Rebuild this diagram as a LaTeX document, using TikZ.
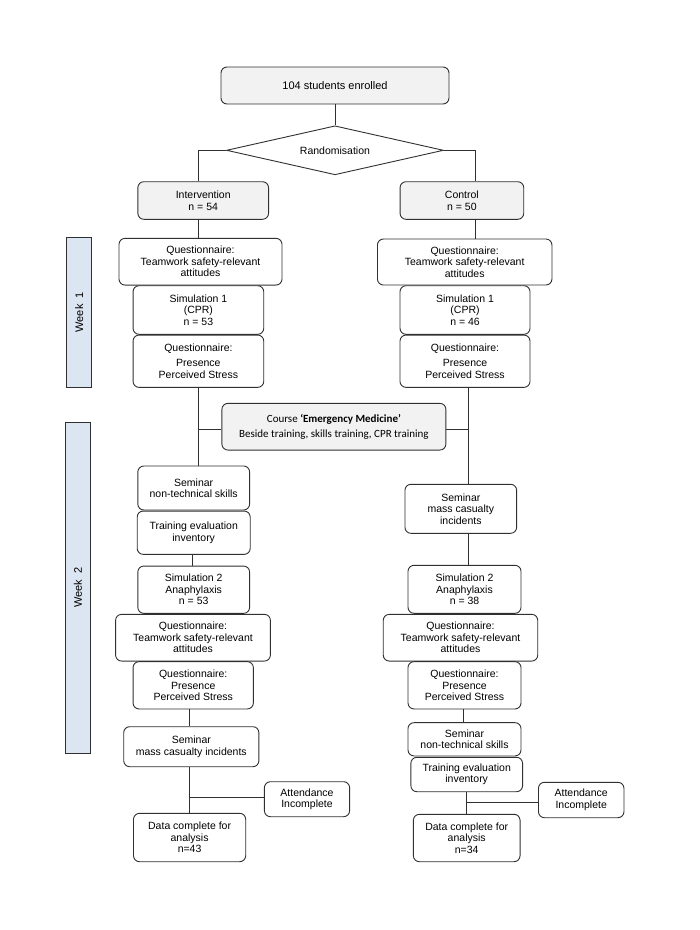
\documentclass[tikz,border=0pt]{standalone}
\usepackage{fontspec}
\setmainfont{Liberation Sans}
\newfontfamily\calib{Carlito}
\usetikzlibrary{shapes.geometric}
\definecolor{boxgrey}{HTML}{F2F2F2}
\definecolor{weekblue}{HTML}{DCE6F2}
\definecolor{linec}{HTML}{303030}
\begin{document}
\begin{tikzpicture}[x=1pt,y=-1pt,
  every node/.style={font=\fontsize{10.5}{11.5}\selectfont, align=center, inner sep=0pt, text=black},
  sz/.style 2 args={minimum width=#1pt, minimum height=#2pt},
  box/.style={draw=linec, line width=0.9pt, rounded corners=6pt, fill=white},
  gbox/.style={box, fill=boxgrey},
  weekbox/.style={draw=linec, line width=1pt, fill=weekblue, rotate=90, font=\fontsize{11}{12}\selectfont},
  conn/.style={draw=linec, line width=0.9pt}]
\useasboundingbox (0,0) rectangle (700,930);

% top
\node[gbox, sz={228}{37}, font=\fontsize{11}{12}\selectfont] (top) at (335,85.5) {104 students enrolled};
\node[diamond, draw=linec, line width=0.9pt, fill=white, aspect=4.4, sz={217}{49}] (rand) at (335,150.3) {Randomisation};
\node[gbox, sz={130.7}{37.6}] (int) at (203.2,200.5) {Intervention\\n = 54};
\node[gbox, sz={123.7}{37.6}] (ctl) at (461.9,200.5) {Control\\n = 50};

% week labels
\node[weekbox, sz={150}{24.8}] (wk1) at (79.1,312.3) {Week\ \ 1};
\node[weekbox, sz={331}{24.8}] (wk2) at (78,587.8) {Week\ \ 2};

% week 1 left
\node[box, sz={163}{46.7}] (lq1) at (200.5,261.7) {Questionnaire:\\Teamwork safety-relevant\\attitudes};
\node[box, sz={130.7}{48.6}] (ls1) at (198.4,310) {Simulation 1\\(CPR)\\n = 53};
\node[box, sz={130.7}{52.3}] (lq2) at (198.4,361.2) {Questionnaire:\\[4pt]Presence\\Perceived Stress};
% week 1 right
\node[box, sz={174.5}{46}] (rq1) at (464.7,262) {Questionnaire:\\Teamwork safety-relevant\\attitudes};
\node[box, sz={130}{48.6}] (rs1) at (465,310) {Simulation 1\\(CPR)\\n = 46};
\node[box, sz={130}{52.3}] (rq2) at (465,361.2) {Questionnaire:\\[4pt]Presence\\Perceived Stress};

% course
\node[gbox, sz={224}{46.7}, font=\calib\fontsize{11}{15.5}\selectfont] (course) at (333.9,426.7) {Course \textbf{‘Emergency Medicine’}\\Beside training, skills training, CPR training};

% week 2 left
\node[box, sz={111.8}{44}] (lsn) at (193.7,488) {Seminar\\non-technical skills};
\node[box, sz={113}{43.3}] (ltr) at (193.7,532.7) {Training evaluation\\inventory};
\node[box, sz={111.8}{47.3}] (ls2) at (193.7,589.7) {Simulation 2\\Anaphylaxis\\n = 53};
\node[box, sz={154.8}{46.7}] (lq3) at (193,637.7) {Questionnaire:\\Teamwork safety-relevant\\attitudes};
\node[box, sz={120.3}{47.3}] (lq4) at (193.2,685.3) {Questionnaire:\\Presence\\Perceived Stress};
\node[box, sz={135.2}{40}] (lsm) at (191.3,746.7) {Seminar\\mass casualty incidents};
\node[box, sz={85.2}{35}] (latt) at (307,799.2) {Attendance\\Incomplete};
\node[box, sz={112.2}{48.4}] (ldat) at (189.6,837.5) {Data complete for\\analysis\\n=43};

% week 2 right
\node[box, sz={111.7}{49}] (rsm) at (460.8,508.8) {Seminar\\mass casualty\\incidents};
\node[box, sz={113}{48}] (rs2) at (464.5,589.3) {Simulation 2\\Anaphylaxis\\n = 38};
\node[box, sz={154.5}{46.7}] (rq3) at (460.5,637.7) {Questionnaire:\\Teamwork safety-relevant\\attitudes};
\node[box, sz={113}{47.3}] (rq4) at (464.5,685.3) {Questionnaire:\\Presence\\Perceived Stress};
\node[box, sz={113}{33.3}] (rsn) at (464.5,739.3) {Seminar\\non-technical skills};
\node[box, sz={111.7}{34.4}] (rtr) at (466.7,774.5) {Training evaluation\\inventory};
\node[box, sz={85.5}{35.4}] (ratt) at (581.2,800) {Attendance\\Incomplete};
\node[box, sz={106.7}{47.4}] (rdat) at (466.7,838) {Data complete for\\analysis\\n=34};

% connectors
\draw[conn] (top.south) -- (rand.north);
\draw[conn] (rand.west) -| ([xshift=-5.2pt]int.north);
\draw[conn] (rand.east) -| ([xshift=13.7pt]ctl.north);
\draw[conn] ([xshift=-5.2pt]int.south) -- ([xshift=-5.2pt]int.south |- lq1.north);
\draw[conn] ([xshift=13.7pt]ctl.south) -- ([xshift=13.7pt]ctl.south |- rq1.north);
\coordinate (lmain) at ([xshift=-0.4pt]lq2.south);
\coordinate (rmain) at ([xshift=3pt]rq2.south);
\draw[conn] (lmain) -- (lmain |- lsn.north);
\draw[conn] (rmain) -- (rmain |- rsm.north);
\draw[conn] ([yshift=-2.6pt]course.west) -- ([yshift=-2.6pt]course.west -| lmain);
\draw[conn] ([yshift=-2.6pt]course.east) -- ([yshift=-2.6pt]course.east -| rmain);
\draw[conn] ([xshift=-1pt]ltr.south) -- ([xshift=-1pt]ltr.south |- ls2.north);
\draw[conn] ([xshift=-3.6pt]lq4.south) -- ([xshift=-3.6pt]lq4.south |- lsm.north);
\draw[conn] ([xshift=-1.7pt]lsm.south) -- ([xshift=-1.7pt]lsm.south |- ldat.north);
\draw[conn] ([yshift=1.5pt]latt.west) -- ([yshift=1.5pt]latt.west -| ldat.north);
\draw[conn] ([xshift=7.2pt]rsm.south) -- ([xshift=7.2pt]rsm.south |- rs2.north);
\draw[conn] ([xshift=-0.8pt]rq4.south) -- ([xshift=-0.8pt]rq4.south |- rsn.north);
\draw[conn] (rtr.south) -- (rtr.south |- rdat.north);
\draw[conn] ([yshift=-2.3pt]ratt.west) -- ([yshift=-2.3pt]ratt.west -| rdat.north);
\end{tikzpicture}
\end{document}
